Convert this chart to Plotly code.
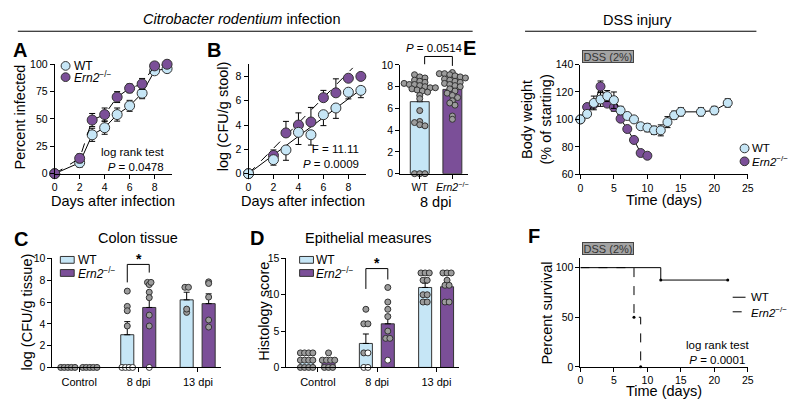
import plotly.graph_objects as go

W, H = 799, 411
FONT = 'Liberation Sans, Arial, sans-serif'
BLUE = '#c6e6f6'
PURPLE = '#7b4f98'
GREY = '#9c9c9c'
EDGE = '#333333'
ERN = '<i>Ern2</i><sup>−/−</sup>'

# ---- A: percent infected
days_a = [0, 2, 3, 4, 5, 6, 7, 8, 9]
wt_inf = [0, 10, 35.5, 42, 54, 62, 73.5, 94, 96]
wt_inf_err = [0, 4, 6, 6, 6, 5, 5, 2, 1]
ern_inf = [0, 14, 49, 54, 70, 78, 82, 98.5, 100]
ern_inf_err = [0, 4, 6, 6, 5, 4, 5, 2, 0]

# ---- B: stool CFU over time
days_b = [0, 2, 3, 4, 5, 6, 7, 8, 9]
wt_cfu = [0, 1.15, 1.95, 3.4, 3.2, 4.85, 5.4, 6.7, 6.85]
wt_cfu_err = [0, 0.45, 0.85, 1.0, 0.85, 0.9, 0.85, 0.55, 0.6]
ern_cfu = [0, 1.5, 3.35, 4.0, 4.25, 6.25, 6.65, 7.85, 8.0]
ern_cfu_err = [0, 0.45, 0.95, 1.0, 1.2, 0.6, 1.15, 0, 0]
wt_fit_x = [0, 9.3]
wt_fit_y = [0, 7.15]
ern_fit_x = [0, 8.35]
ern_fit_y = [0, 8.7]

# ---- B: 8 dpi bars
b_groups = ['WT', ERN]
b_mean = [6.62, 7.75]
b_sem = [0.55, 0.35]
b_wt_pts = [9.1, 8.9, 8.8, 8.6, 8.5, 8.4, 8.3, 8.2, 8.2, 8.1, 8.0, 7.9, 7.9, 7.8, 7.7,
            7.6, 7.5, 7.2, 6.9, 5.8, 4.8, 4.7, 4.5, 4.4, 0, 0, 0]
b_ern_pts = [9.3, 9.2, 9.2, 9.1, 9.0, 8.9, 8.8, 8.7, 8.6, 8.5, 8.4, 8.3, 8.2, 8.1, 8.0,
             7.8, 7.6, 7.4, 7.2, 7.0, 6.7, 6.5, 6.3, 5.3, 5.0]

# ---- C: colon tissue CFU
cats = ['Control', '8 dpi', '13 dpi']
c_wt_mean = [0, 3.0, 6.2]
c_wt_sem = [0, 1.2, 0.7]
c_ern_mean = [0, 5.5, 5.85]
c_ern_sem = [0, 1.0, 0.9]
c_wt_pts = [[0, 0, 0, 0, 0], [7.0, 5.6, 5.2, 3.8], [7.35, 7.35, 5.05, 5.35]]
c_wt_open = [[], [0, 0, 0, 0], []]
c_ern_pts = [[0, 0, 0, 0, 0], [7.8, 7.6, 7.8, 6.9, 6.4, 4.8, 3.8], [7.85, 7.7, 6.45, 4.35, 3.7]]
c_ern_open = [[], [0], []]

# ---- D: histology score
d_wt_mean = [0.9, 3.3, 11.0]
d_wt_sem = [0.25, 1.3, 0.6]
d_ern_mean = [0.8, 6.0, 11.1]
d_ern_sem = [0.25, 1.2, 0.6]
d_wt_pts = [[2, 2, 2, 2, 1, 1, 1, 1, 0, 0, 0, 0], [8, 6, 6, 2], [13, 13, 13, 12, 12, 10, 10, 9, 9]]
d_wt_open = [[], [2, 0, 0], []]
d_ern_pts = [[2, 1, 1, 1, 1, 0, 0, 0], [11, 9, 8, 7, 5, 4, 4], [13, 13, 13, 12, 11.3, 11.3, 9, 9]]
d_ern_open = [[], [1], []]

# ---- E: body weight
days_e_wt = [0, 1, 2, 3, 4, 5, 6, 7, 8, 9, 10, 11, 12, 13, 14, 15, 18, 20, 22]
wt_bw = [100, 104, 112, 114.5, 117, 114, 106.5, 102.5, 100, 95, 94, 92, 92, 98, 103, 105.5, 105.5, 106.5, 112]
wt_bw_err = [0, 2, 5, 5, 4, 6, 3, 2, 1, 2, 3, 3, 4, 4, 3, 3, 3, 3, 3]
days_e_ern = [0, 1, 2, 3, 4, 5, 6, 7, 8, 9, 10]
ern_bw = [100, 109, 111, 124, 111.5, 109, 100.5, 93, 85, 75.5, 73.5]
ern_bw_err = [0, 2, 2, 4, 2, 3, 1, 1, 1, 2, 2]

# ---- F: survival
wt_t = [0, 12, 22]
wt_s = [100, 87.5, 87.5]
ern_t = [0, 8, 9]
ern_s = [100, 50, 0]


def px(x):
    return x / W


def py(y):
    return 1 - y / H


def swarm(vals, center, step, binw):
    keys = [round(v / binw) for v in vals]
    xs = []
    for i in range(len(vals)):
        k = keys.count(keys[i])
        j = keys[:i].count(keys[i])
        xs.append(center + (j - (k - 1) / 2) * step)
    return xs


def axis(x0, x1, rng, **kw):
    d = dict(domain=[px(x0), px(x1)], range=rng, showline=True, linecolor='black', linewidth=1,
             ticks='outside', ticklen=4, tickwidth=1, tickcolor='black', showgrid=False,
             zeroline=False, tickfont=dict(size=10.5, color='black'), fixedrange=True)
    d.update(kw)
    return d


def yaxis(ybot, ytop, rng, **kw):
    return axis(0, 0, rng, domain=[py(ybot), py(ytop)], **kw)


fig = go.Figure()
err = dict(color='black', thickness=1, width=3)
mk = lambda c, s: dict(color=c, size=s, line=dict(color=EDGE, width=1))

# A
fig.add_trace(go.Scatter(x=days_a, y=wt_inf, mode='lines+markers', line=dict(color='black', width=1),
                         marker=mk(BLUE, 10), error_y=dict(array=wt_inf_err, **err),
                         xaxis='x', yaxis='y', cliponaxis=False))
fig.add_trace(go.Scatter(x=days_a, y=ern_inf, mode='lines+markers', line=dict(color='black', width=1, dash='dash'),
                         marker=mk(PURPLE, 10), error_y=dict(array=ern_inf_err, **err),
                         xaxis='x', yaxis='y', cliponaxis=False))

# B line
fig.add_trace(go.Scatter(x=wt_fit_x, y=wt_fit_y, mode='lines', line=dict(color='black', width=1),
                         xaxis='x2', yaxis='y2'))
fig.add_trace(go.Scatter(x=ern_fit_x, y=ern_fit_y, mode='lines', line=dict(color='black', width=1, dash='dash'),
                         xaxis='x2', yaxis='y2'))
fig.add_trace(go.Scatter(x=days_b, y=ern_cfu, mode='markers', marker=mk(PURPLE, 10),
                         error_y=dict(symmetric=False, array=ern_cfu_err, arrayminus=[0] * 9, **err),
                         xaxis='x2', yaxis='y2', cliponaxis=False))
fig.add_trace(go.Scatter(x=days_b, y=wt_cfu, mode='markers', marker=mk(BLUE, 10),
                         error_y=dict(symmetric=False, array=[0] * 9, arrayminus=wt_cfu_err, **err),
                         xaxis='x2', yaxis='y2', cliponaxis=False))

# B bars
fig.add_trace(go.Bar(x=[0, 1], y=b_mean, width=0.58, marker=dict(color=[BLUE, PURPLE], line=dict(color=EDGE, width=1)),
                     error_y=dict(symmetric=False, array=b_sem, arrayminus=[0, 0], **err),
                     xaxis='x3', yaxis='y3'))
for i, pts in enumerate([b_wt_pts, b_ern_pts]):
    fig.add_trace(go.Scatter(x=swarm(pts, i, 0.16, 0.45), y=pts, mode='markers', marker=mk(GREY, 6),
                             xaxis='x3', yaxis='y3', cliponaxis=False))


def bar_panel(xa, ya, wt_m, wt_e, ern_m, ern_e, wt_p, wt_o, ern_p, ern_o, step, binw):
    for off, m, e, col in [(-0.19, wt_m, wt_e, BLUE), (0.18, ern_m, ern_e, PURPLE)]:
        fig.add_trace(go.Bar(x=[i + off for i in range(3)], y=m, width=0.22,
                             marker=dict(color=col, line=dict(color=EDGE, width=1)),
                             error_y=dict(symmetric=False, array=e, arrayminus=[0] * 3, **err),
                             xaxis=xa, yaxis=ya))
    for off, pts, opn in [(-0.19, wt_p, wt_o), (0.18, ern_p, ern_o)]:
        for i in range(3):
            allv = pts[i] + opn[i]
            xs = swarm(allv, i + off, step, binw)
            n = len(pts[i])
            fig.add_trace(go.Scatter(x=xs[:n], y=pts[i], mode='markers', marker=mk(GREY, 6),
                                     xaxis=xa, yaxis=ya, cliponaxis=False))
            if opn[i]:
                fig.add_trace(go.Scatter(x=xs[n:], y=opn[i], mode='markers', marker=mk('white', 6),
                                         xaxis=xa, yaxis=ya, cliponaxis=False))


bar_panel('x4', 'y4', c_wt_mean, c_wt_sem, c_ern_mean, c_ern_sem, c_wt_pts, c_wt_open, c_ern_pts, c_ern_open, 0.06, 0.5)
bar_panel('x5', 'y5', d_wt_mean, d_wt_sem, d_ern_mean, d_ern_sem, d_wt_pts, d_wt_open, d_ern_pts, d_ern_open, 0.07, 0.5)

# E
fig.add_trace(go.Scatter(x=days_e_ern, y=ern_bw, mode='lines+markers', line=dict(color='black', width=1),
                         marker=mk(PURPLE, 9), error_y=dict(array=ern_bw_err, **err),
                         xaxis='x6', yaxis='y6', cliponaxis=False))
fig.add_trace(go.Scatter(x=days_e_wt, y=wt_bw, mode='lines+markers', line=dict(color='black', width=1),
                         marker=mk(BLUE, 9), error_y=dict(array=wt_bw_err, **err),
                         xaxis='x6', yaxis='y6', cliponaxis=False))

# F
fig.add_trace(go.Scatter(x=wt_t, y=wt_s, mode='lines', line=dict(color='black', width=1, shape='hv'),
                         xaxis='x7', yaxis='y7'))
fig.add_trace(go.Scatter(x=ern_t, y=ern_s, mode='lines', line=dict(color='black', width=1, shape='hv', dash='dash'),
                         xaxis='x7', yaxis='y7', cliponaxis=False))
fig.add_trace(go.Scatter(x=wt_t[1:] + ern_t[1:], y=wt_s[1:] + ern_s[1:], mode='markers',
                         marker=dict(color='black', size=3), xaxis='x7', yaxis='y7', cliponaxis=False))

fig.update_layout(
    width=W, height=H, margin=dict(l=0, r=0, t=0, b=0), showlegend=False,
    plot_bgcolor='white', paper_bgcolor='white', barmode='overlay',
    font=dict(family=FONT, color='black', size=12),
    xaxis=axis(52.3, 171, [0, 9.4], anchor='y', tickvals=[0, 2, 4, 6, 8]),
    yaxis=yaxis(172.7, 60, [0, 100], anchor='x', tickvals=[0, 25, 50, 75, 100]),
    xaxis2=axis(248.3, 367, [0, 9.4], anchor='y2', tickvals=[0, 2, 4, 6, 8]),
    yaxis2=yaxis(172.7, 60, [0, 9], anchor='x2', tickvals=[0, 2, 4, 6, 8]),
    xaxis3=axis(401.7, 470, [-0.6, 1.47], anchor='y3', tickvals=[0, 1], ticktext=b_groups),
    yaxis3=yaxis(172.7, 60.7, [0, 10], anchor='x3', tickvals=[0, 2, 4, 6, 8, 10]),
    xaxis4=axis(50, 220, [-0.45, 2.38], anchor='y4', tickvals=[0, 1, 2], ticktext=cats, tickfont=dict(size=11)),
    yaxis4=yaxis(372.3, 260, [0, 10], anchor='x4', tickvals=[0, 2, 4, 6, 8, 10]),
    xaxis5=axis(286.7, 461.7, [-0.53, 2.39], anchor='y5', tickvals=[0, 1, 2], ticktext=cats, tickfont=dict(size=11)),
    yaxis5=yaxis(372.3, 260, [0, 15], anchor='x5', tickvals=[0, 5, 10, 15]),
    xaxis6=axis(584, 753.3, [0, 25], anchor='y6', tickvals=[0, 5, 10, 15, 20, 25]),
    yaxis6=yaxis(173.3, 60.3, [60, 140], anchor='x6', tickvals=[60, 80, 100, 120, 140]),
    xaxis7=axis(584, 753.3, [0, 25], anchor='y7', tickvals=[0, 5, 10, 15, 20, 25]),
    yaxis7=yaxis(371.7, 259.3, [0, 110], anchor='x7', tickvals=[0, 50, 100]),
)


def txt(x, y, s, size=13, **kw):
    d = dict(x=px(x), y=py(y), xref='paper', yref='paper', text=s, showarrow=False,
             font=dict(size=size, color='black', family=FONT), xanchor='center', yanchor='middle')
    d.update(kw)
    return d


T = 14.5
ann = [
    txt(241, 13, '<i>Citrobacter rodentium</i> infection', 14.5),
    txt(642, 14, 'DSS injury', 14.5),
    # panel letters
    txt(8, 45, '<b>A</b>', 20, xanchor='left'),
    txt(204, 45, '<b>B</b>', 20, xanchor='left'),
    txt(9, 240, '<b>C</b>', 20, xanchor='left'),
    txt(248, 239, '<b>D</b>', 20, xanchor='left'),
    txt(463, 43, '<b>E</b>', 20, xanchor='left'),
    txt(529, 237, '<b>F</b>', 20, xanchor='left'),
    # axis titles
    txt(111, 201, 'Days after infection', T),
    txt(17, 114, 'Percent infected', T, textangle=-90),
    txt(303, 201, 'Days after infection', T),
    txt(222, 113, 'log (CFU/g stool)', T, textangle=-90),
    txt(437, 202, '8 dpi', T),
    txt(24, 315, 'log (CFU/g tissue)', T, textangle=-90),
    txt(264, 315, 'Histology score', T, textangle=-90),
    txt(669, 200, 'Time (days)', T),
    txt(540, 117, 'Body weight<br>(% of starting)', T, textangle=-90),
    txt(669, 397, 'Time (days)', T),
    txt(550, 316, 'Percent survival', T, textangle=-90),
    txt(137, 239, 'Colon tissue', 14.5),
    txt(370, 239, 'Epithelial measures', 14.5),
    # stats
    txt(165, 158, 'log rank test<br><i>P</i> = 0.0478', 11.5, xanchor='right', align='right'),
    txt(362, 155, 'F = 11.11<br><i>P</i> = 0.0009', 11.5, xanchor='right', align='right'),
    txt(436, 43, '<i>P</i> = 0.0514', 11.5),
    txt(723, 357, 'log rank test<br><i>P</i> = 0.0001', 11.5),
    dict(x=1, y=9.95, xref='x4', yref='y4', text='<b>*</b>', showarrow=False, font=dict(size=14), yanchor='middle'),
    dict(x=0.99, y=14.4, xref='x5', yref='y5', text='<b>*</b>', showarrow=False, font=dict(size=14), yanchor='middle'),
    # DSS boxes
    txt(612, 52.5, 'DSS (2%)', 11, bgcolor='#a3a3a3', bordercolor='#444', borderwidth=1, width=50, height=11, borderpad=0, font=dict(size=11, color='#333')),
    txt(612, 250, 'DSS (2%)', 11, bgcolor='#a3a3a3', bordercolor='#444', borderwidth=1, width=50, height=11, borderpad=0, font=dict(size=11, color='#333')),
    # legends
    txt(70, 61.7, 'WT', 12, xanchor='left'),
    txt(70, 73.3, ERN, 12, xanchor='left'),
    txt(74, 261.5, 'WT', 12, xanchor='left'),
    txt(74, 275, ERN, 12, xanchor='left'),
    txt(315, 261.5, 'WT', 12, xanchor='left'),
    txt(315, 275, ERN, 12, xanchor='left'),
    txt(756, 146.7, 'WT', 11.5, xanchor='left'),
    txt(756, 160, ERN, 11.5, xanchor='left'),
    txt(755, 300, 'WT', 11.5, xanchor='left'),
    txt(755, 315, ERN, 11.5, xanchor='left'),
]

line = dict(color='black', width=1)
shp = [
    dict(type='line', xref='paper', yref='paper', x0=px(15), x1=px(475), y0=py(26), y1=py(26), line=line),
    dict(type='line', xref='paper', yref='paper', x0=px(528), x1=px(762), y0=py(26), y1=py(26), line=line),
    # brackets
    dict(type='path', xref='x3', yref='paper', line=line,
         path=f'M 0.15,{py(60)} L 0.15,{py(52)} L 1,{py(52)} L 1,{py(61.7)}'),
    dict(type='path', xref='x4', yref='y4', line=line, path='M 0.81,7.8 L 0.81,9.45 L 1.18,9.45 L 1.18,8.7'),
    dict(type='path', xref='x5', yref='y5', line=line, path='M 0.81,10.8 L 0.81,13.6 L 1.18,13.6 L 1.18,12.1'),
]
for cx, cy, col in [(63.3, 61.7, BLUE), (63.3, 73.3, PURPLE), (750, 146.7, BLUE), (750, 160, PURPLE)]:
    shp.append(dict(type='circle', xref='paper', yref='paper', x0=px(cx - 4.5), x1=px(cx + 4.5),
                    y0=py(cy + 4.5), y1=py(cy - 4.5), fillcolor=col, line=dict(color=EDGE, width=1)))
for x0, cy, col in [(58, 261.5, BLUE), (58, 275, PURPLE), (300, 261.5, BLUE), (300, 275, PURPLE)]:
    shp.append(dict(type='rect', xref='paper', yref='paper', x0=px(x0), x1=px(x0 + 14),
                    y0=py(cy + 3.5), y1=py(cy - 3.5), fillcolor=col, line=dict(color=EDGE, width=1)))
shp.append(dict(type='line', xref='paper', yref='paper', x0=px(738), x1=px(751), y0=py(300), y1=py(300), line=line))
shp.append(dict(type='line', xref='paper', yref='paper', x0=px(738), x1=px(751), y0=py(315), y1=py(315),
                line=dict(color='black', width=1, dash='dash')))

fig.update_layout(annotations=ann, shapes=shp)
# the page's default 8px body margin would shift the whole figure
fig.write_html('out.html', config={'displayModeBar': False},
               post_script="document.body.style.margin='0';")
